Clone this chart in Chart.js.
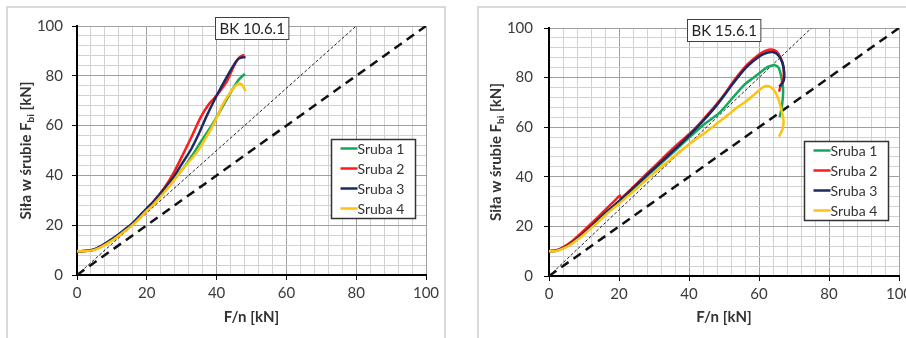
<!DOCTYPE html>
<html>
<head>
<meta charset="utf-8">
<script src="https://cdn.jsdelivr.net/npm/chart.js@4"></script>
<style>
  body { margin: 0; width: 906px; height: 338px; overflow: hidden; background: #fff; position: relative; }
  .frame { position: absolute; box-sizing: border-box; border: 2px solid #d9d9d9; background: #fff; }
  canvas { position: absolute; }
</style>
</head>
<body>
<div class="frame" style="left:6px; top:6px; width:440px; height:345px;"></div>
<div class="frame" style="left:477px; top:6px; width:460px; height:345px;"></div>
<canvas id="chart-left" width="436" height="330" style="left:8px; top:8px;"></canvas>
<canvas id="chart-right" width="460" height="330" style="left:480px; top:8px;"></canvas>
<script>
// Series names and tick labels
const seriesNames = ['Sruba 1', 'Sruba 2', 'Sruba 3', 'Sruba 4'];
const axisLabels = [0, 20, 40, 60, 80, 100];

// BK 10.6.1 - [F/n, force in bolt]
const bk10Sruba1 = [[0,9.5],[3,9.7],[5,10.3],[7,11.6],[10,14.2],[13,17.3],[16,20.6],[20,26.3],[22,29.2],[25,33.8],[28,38.8],[30.5,43],[33,48],[35.5,53.5],[39,61],[42.9,70.5],[46.2,78.2],[48.1,80.8]];
const bk10Sruba2 = [[0,9.5],[3,9.7],[5,10.3],[7,11.6],[10,14.2],[13,17.3],[16,20.6],[20,26.6],[22,29.6],[25,35],[27.5,40.5],[30.7,49.4],[33,56],[35.5,63.5],[37.6,68.3],[39,70.5],[40.5,73],[42.9,77.7],[44.8,83.5],[46.2,86.8],[47.2,88],[48,88.3]];
const bk10Sruba3 = [[0,9.5],[3,9.7],[5,10.3],[7,11.7],[10,14.4],[13,17.5],[16,20.9],[20,26.8],[22,29.6],[25,34.6],[28,40],[30,44.5],[32.7,50.5],[35,57],[37.2,64],[40,72],[42.9,79.5],[45,84.5],[46.2,86.8],[47.5,87.4],[48.3,87.5]];
const bk10Sruba4 = [[0,9.5],[3,9.6],[5,10.1],[7,11.3],[10,13.8],[13,16.9],[16,20.2],[20,25.8],[22,28.5],[25,33.2],[28,38.4],[30.2,42.5],[32.4,46],[34.4,49.4],[36.2,53.4],[39.1,60.5],[41.9,68.8],[44.5,74.5],[45.8,76.5],[46.7,76.9],[47.5,76],[48.3,73.8]];

// BK 15.6.1 - [F/n, force in bolt]
const bk15Sruba1 = [[0,10],[2,10.2],[4,11.2],[6,12.7],[8,14.9],[10,17.3],[13,21.1],[16,25.1],[20,30],[24,35.1],[27,39],[30,42.9],[34,48],[38,53.2],[41,57],[44,60.8],[48.8,66],[52.7,72.2],[56,77.4],[58.3,79.8],[60.3,82],[62.5,84.3],[64.5,85],[65.6,84],[66.4,80],[66.9,75],[66.6,69],[65.9,64]];
const bk15Sruba2 = [[0,10],[2,10.3],[4,11.6],[6,13.4],[8,15.8],[10,18.4],[13,22.4],[16,26.6],[19,30.7],[20.2,32.4],[20.5,31.4],[21,31.8],[24,35.8],[27,40],[30,44],[34,49.5],[38,54.7],[41,58.5],[44,63],[47.9,69.3],[50.5,74],[52.7,78.5],[56.5,85],[60.3,89.6],[62,90.9],[63.6,91.3],[65,90.6],[66.2,88],[67,84],[67,80],[66.4,77.5],[65.7,74.3]];
const bk15Sruba3 = [[0,10],[2,10.2],[4,11.2],[6,12.8],[8,15],[10,17.4],[13,21.3],[16,25.3],[20,30.2],[24,35.4],[27,39.4],[30,43.3],[34,48.5],[38,53.8],[41,58],[44,62.5],[47.9,68.8],[52.7,77.8],[56.5,84.3],[60.3,88.7],[62.5,90.1],[64,90.3],[65.5,89],[66.7,86],[67.2,82],[67.1,79],[66.3,77],[65.7,76.5]];
const bk15Sruba4 = [[0,10],[2,10.1],[4,11],[6,12.5],[8,14.5],[10,16.8],[13,20.5],[16,24.4],[20,29.2],[24,34],[27,37.8],[30,41.5],[33.6,45.7],[38,50.8],[42,55.2],[45,58.2],[47.9,61.4],[51,64.8],[54,68.2],[56.4,70.6],[59,73.6],[61.2,76.2],[62.5,76.6],[63.5,76],[64.5,74.5],[65.5,71.5],[66.4,67],[67,63],[66.8,59.5],[65.7,56.2]];

// Reference lines
const bk10Dotted = [[0,0],[80,100]];
const bk15Dotted = [[0,0],[75,100]];
const diagonal = [[0,0],[100,100]];

const seriesColors = ['#13a85a', '#ff1a1a', '#1a2a63', '#ffc20e'];
const fontFamily = 'Lato, "Open Sans", sans-serif';
const majorGrid = '#a0a0a0';
const minorGrid = '#d2d2d2';

Chart.defaults.font.family = fontFamily;
Chart.defaults.color = '#404040';

const toPoints = arr => arr.map(p => ({ x: p[0], y: p[1] }));

// Draws the title box, the legend box and the y axis title (with subscript)
const decorPlugin = {
    id: 'decor',
    afterDraw(chart, args, opts) {
        const ctx = chart.ctx;
        const area = chart.chartArea;
        ctx.save();

        // title box
        ctx.font = '15px ' + fontFamily;
        const tw = ctx.measureText(opts.title).width + 8;
        const bx = Math.round((area.left + area.right) / 2 - tw / 2) + 0.5;
        const by = area.top - 9 + 0.5;
        ctx.fillStyle = '#fff';
        ctx.fillRect(bx, by, tw, 22);
        ctx.strokeStyle = '#404040';
        ctx.lineWidth = 1;
        ctx.strokeRect(bx, by, tw, 22);
        ctx.fillStyle = '#222';
        ctx.textBaseline = 'middle';
        ctx.textAlign = 'center';
        ctx.fillText(opts.title, bx + tw / 2, by + 12);

        // legend box
        const lw = 84, lh = 79;
        const lx = Math.round(area.right - 11 - lw) + 0.5;
        const ly = Math.round(area.top + 113) + 0.5;
        ctx.fillStyle = '#fff';
        ctx.fillRect(lx, ly, lw, lh);
        ctx.strokeStyle = '#333';
        ctx.lineWidth = 1.5;
        ctx.strokeRect(lx, ly, lw, lh);
        ctx.font = '14px ' + fontFamily;
        ctx.textAlign = 'left';
        seriesNames.forEach((name, i) => {
            const y = ly + 9 + i * 20;
            ctx.strokeStyle = seriesColors[i];
            ctx.lineWidth = 2.5;
            ctx.beginPath();
            ctx.moveTo(lx + 9, y);
            ctx.lineTo(lx + 26, y);
            ctx.stroke();
            ctx.fillStyle = '#333';
            ctx.fillText(name, lx + 26, y + 1);
        });

        // y axis title: Siła w śrubie F_bi [kN]
        ctx.translate(opts.yTitleX, (area.top + area.bottom) / 2);
        ctx.rotate(-Math.PI / 2);
        ctx.textBaseline = 'alphabetic';
        const bigFont = 'bold 15px ' + fontFamily;
        const subFont = 'bold 10px ' + fontFamily;
        const parts = [['Siła w śrubie F', bigFont, 0], ['bi', subFont, 3], [' [kN]', bigFont, 0]];
        let total = 0;
        parts.forEach(p => { ctx.font = p[1]; total += ctx.measureText(p[0]).width; });
        let x = -total / 2;
        ctx.fillStyle = '#333';
        parts.forEach(p => {
            ctx.font = p[1];
            ctx.fillText(p[0], x, 5 + p[2]);
            x += ctx.measureText(p[0]).width;
        });
        ctx.restore();
    }
};

function axisOptions(isX, padding, size) {
    return {
        type: 'linear',
        min: 0,
        max: 100,
        ticks: {
            stepSize: 4,
            autoSkip: false,
            maxRotation: 0,
            padding: padding,
            font: { size: 15 },
            color: '#3a3a3a',
            callback: v => (axisLabels.includes(v) ? v : '')
        },
        grid: {
            color: c => (c.tick && c.tick.value % 20 === 0 ? majorGrid : minorGrid),
            tickColor: c => (c.tick && c.tick.value % 20 === 0 ? '#000' : 'rgba(0,0,0,0)'),
            tickLength: 5,
            lineWidth: 1
        },
        border: { color: '#000', width: 2 },
        title: isX
            ? { display: true, text: 'F/n [kN]', font: { size: 15, weight: 'bold' }, color: '#333', padding: { top: 0, bottom: 12 } }
            : { display: false },
        afterFit: scale => {
            if (isX) scale.height = size; else scale.width = size;
        }
    };
}

function makeChart(id, title, series, dotted, cfg) {
    const datasets = series.map((s, i) => ({
        label: seriesNames[i],
        data: toPoints(s),
        borderColor: seriesColors[i],
        borderWidth: 2.5,
        pointRadius: 0,
        tension: 0.3,
        fill: false,
        order: [4, 3, 2, 1][i]
    }));
    datasets.push({
        label: 'dotted',
        data: toPoints(dotted),
        borderColor: '#222',
        borderWidth: 1,
        borderDash: [3, 2],
        pointRadius: 0,
        order: 5
    });
    datasets.push({
        label: 'diagonal',
        data: toPoints(diagonal),
        borderColor: '#111',
        borderWidth: 2.5,
        borderDash: [9, 6],
        pointRadius: 0,
        order: 6
    });

    new Chart(document.getElementById(id), {
        type: 'line',
        data: { datasets },
        options: {
            responsive: false,
            animation: false,
            devicePixelRatio: 1,
            layout: { padding: { top: 14, right: cfg.right, left: 0, bottom: 0 } },
            scales: {
                x: axisOptions(true, 4, cfg.xHeight),
                y: axisOptions(false, cfg.yPad, 69)
            },
            plugins: {
                legend: { display: false },
                tooltip: { enabled: false },
                decor: { title: title, yTitleX: cfg.yTitleX }
            }
        },
        plugins: [decorPlugin]
    });
}

document.addEventListener('DOMContentLoaded', () => {
    makeChart('chart-left', 'BK 10.6.1', [bk10Sruba1, bk10Sruba2, bk10Sruba3, bk10Sruba4], bk10Dotted,
        { right: 18, xHeight: 63, yPad: 9, yTitleX: 18 });
    makeChart('chart-right', 'BK 15.6.1', [bk15Sruba1, bk15Sruba2, bk15Sruba3, bk15Sruba4], bk15Dotted,
        { right: 41, xHeight: 62, yPad: 11, yTitleX: 16 });
});
</script>
</body>
</html>
